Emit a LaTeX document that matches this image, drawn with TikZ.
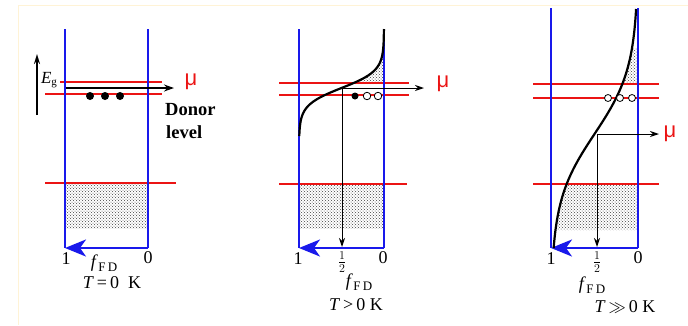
\documentclass[tikz,border=0pt]{standalone}
\usepackage{fontspec}
\setmainfont{Liberation Serif}
\newfontfamily\musf{Liberation Sans}
\usetikzlibrary{arrows.meta,patterns}
\definecolor{bblue}{RGB}{25,25,235}
\definecolor{rred}{RGB}{235,20,20}
\definecolor{cream}{RGB}{255,243,214}
\newcommand\lblsize{\fontsize{18}{18}\selectfont}
\newcommand\fFD{\textit{f}\kern0.5pt\raisebox{-0.5ex}{\fontsize{13}{13}\selectfont F\,D}}
\begin{document}
\begin{tikzpicture}[x=1pt,y=-1pt,
  blueside/.style={draw=bblue,line width=2.6pt},
  bluearrow/.style={draw=bblue,line width=2.6pt,-{Stealth[length=21pt,width=17pt,inset=6pt]}},
  redline/.style={draw=rred,line width=1.7pt},
  thinarrow/.style={draw=black,line width=1pt,-{Stealth[length=9pt,width=6pt]}},
  fdcurve/.style={draw=black,line width=2.2pt},
  stip/.style={pattern=crosshatch dots,pattern color=black!75},
  lab/.style={inner sep=0pt,font=\lblsize},
  mulab/.style={inner sep=0pt,text=rred,font=\musf\fontsize{22}{22}\selectfont},
  fill dot/.style={circle,fill=black,inner sep=0pt,minimum size=8pt},
  open dot/.style={circle,draw=black,line width=0.8pt,fill=white,inner sep=0pt,minimum size=7.5pt}
]
\useasboundingbox (0,0) rectangle (688,325);
% faint frame
\draw[cream,line width=1pt] (688,5) -- (18,5) -- (18,325);

%================ Panel 1 ==================
\fill[stip] (65,183) rectangle (148,228);
\draw[redline] (60,82) -- (162,82);
\draw[redline] (45,94) -- (162,94);
\draw[redline] (45,183) -- (176,183);
\coordinate (a1L) at (65,29); \coordinate (a1BL) at (65,248);
\coordinate (a1R) at (148,29); \coordinate (a1BR) at (148,248);
\draw[blueside] (a1L) -- (a1BL);
\draw[blueside] (a1R) -- (a1BR);
\draw[bluearrow] (a1BR) -- (a1BL);
\coordinate (mu1s) at (66,88); \coordinate (mu1e) at (174,88);
\draw[draw=black,line width=2.2pt,-{Stealth[length=10pt,width=7pt]}] (mu1s) -- (mu1e);
\coordinate (eg1) at (37,115); \coordinate (eg2) at (37,54);
\draw[draw=black,line width=1.6pt,-{Stealth[length=10pt,width=6pt]}] (eg1) -- (eg2);
\node[inner sep=0pt,font=\fontsize{17}{17}\selectfont] (Eg) at (49,80) {\textit{E}\raisebox{-0.35ex}{\fontsize{11}{11}\selectfont g}};
\node[fill dot] (d11) at (90,96) {};
\node[fill dot] (d12) at (105,96) {};
\node[fill dot] (d13) at (120,96) {};
\node[mulab] (mu1) at (191,82) {μ};
\node[inner sep=0pt,anchor=west,font=\bfseries\fontsize{18.5}{18.5}\selectfont] (donor) at (165,110) {Donor};
\node[inner sep=0pt,anchor=west,font=\bfseries\fontsize{18.5}{18.5}\selectfont] (level) at (166,132) {level};
\node[lab] (one1) at (66,259) {1};
\node[lab] (zero1) at (148,258) {0};
\node[lab] (f1) at (104,263) {\fFD};
\node[lab] (T1) at (112,283) {\textit{T}\,=\,0\ \ K};

%================ Panel 2 ==================
\fill[stip] (299,184) rectangle (384,228);
\fill[stip] plot[domain=56:84,samples=30,variable=\t] ({384-85/(1+exp((88-\t)/8))},\t) -- (384,84) -- (384,56) -- cycle;
\draw[redline] (279,83) -- (409,83);
\draw[redline] (279,95) -- (409,95);
\draw[redline] (279,184) -- (407,184);
\coordinate (a2L) at (299,29); \coordinate (a2BL) at (299,248);
\coordinate (a2R) at (384,29); \coordinate (a2BR) at (384,248);
\draw[blueside] (a2L) -- (a2BL);
\draw[blueside] (a2R) -- (a2BR);
\draw[bluearrow] (a2BR) -- (a2BL);
\draw[fdcurve] plot[domain=29:136,samples=120,variable=\t] ({384-85/(1+exp((88-\t)/8.5))},\t);
\coordinate (c2) at (342,88); \coordinate (mu2e) at (424,88); \coordinate (h2) at (342,247);
\draw[thinarrow] (c2) -- (mu2e);
\draw[thinarrow] (c2) -- (h2);
\node[fill dot,minimum size=7pt] (d21) at (355,96) {};
\node[open dot] (d22) at (367,96) {};
\node[open dot] (d23) at (378,96) {};
\node[mulab] (mu2) at (443,84) {μ};
\node[lab] (one2) at (298,259) {1};
\node[lab] (half2) at (342,262) {\fontsize{17}{17}\selectfont$\frac{1}{2}$};
\node[lab] (zero2) at (383,258) {0};
\node[lab] (f2) at (359,282) {\fFD};
\node[lab] (T2) at (356,305) {\textit{T}\,>\,0\ K};

%================ Panel 3 ==================
\fill[stip] plot[domain=184:230,samples=30,variable=\t] ({638-87/(1+exp((134-\t)/33))},\t) -- (638,230) -- (638,184) -- cycle;
\fill[stip] plot[domain=48:84,samples=30,variable=\t] ({638-87/(1+exp((134-\t)/33))},\t) -- (638,84) -- (638,48) -- cycle;
\draw[redline] (533,84) -- (659,84);
\draw[redline] (533,98) -- (659,98);
\draw[redline] (533,184) -- (659,184);
\coordinate (a3L) at (551,8); \coordinate (a3BL) at (551,248);
\coordinate (a3R) at (638,8); \coordinate (a3BR) at (638,248);
\draw[blueside] (a3L) -- (a3BL);
\draw[blueside] (a3R) -- (a3BR);
\draw[bluearrow] (a3BR) -- (a3BL);
\draw[fdcurve] plot[domain=9:248,samples=120,variable=\t] ({638-87/(1+exp((134-\t)/33))},\t);
\coordinate (c3) at (597,134); \coordinate (mu3e) at (659,134); \coordinate (h3) at (597,247);
\draw[thinarrow] (c3) -- (mu3e);
\draw[thinarrow] (c3) -- (h3);
\node[open dot,minimum size=7pt] (d31) at (608,98) {};
\node[open dot,minimum size=7pt] (d32) at (620,98) {};
\node[open dot,minimum size=7pt] (d33) at (632,98) {};
\node[mulab] (mu3) at (670,134) {μ};
\node[lab] (one3) at (551,259) {1};
\node[lab] (half3) at (597,262) {\fontsize{17}{17}\selectfont$\frac{1}{2}$};
\node[lab] (zero3) at (638,258) {0};
\node[lab] (f3) at (592,285) {\fFD};
\node[lab] (T3) at (625,307) {\textit{T}\,$\gg$\,0\ K};
\end{tikzpicture}
\end{document}
